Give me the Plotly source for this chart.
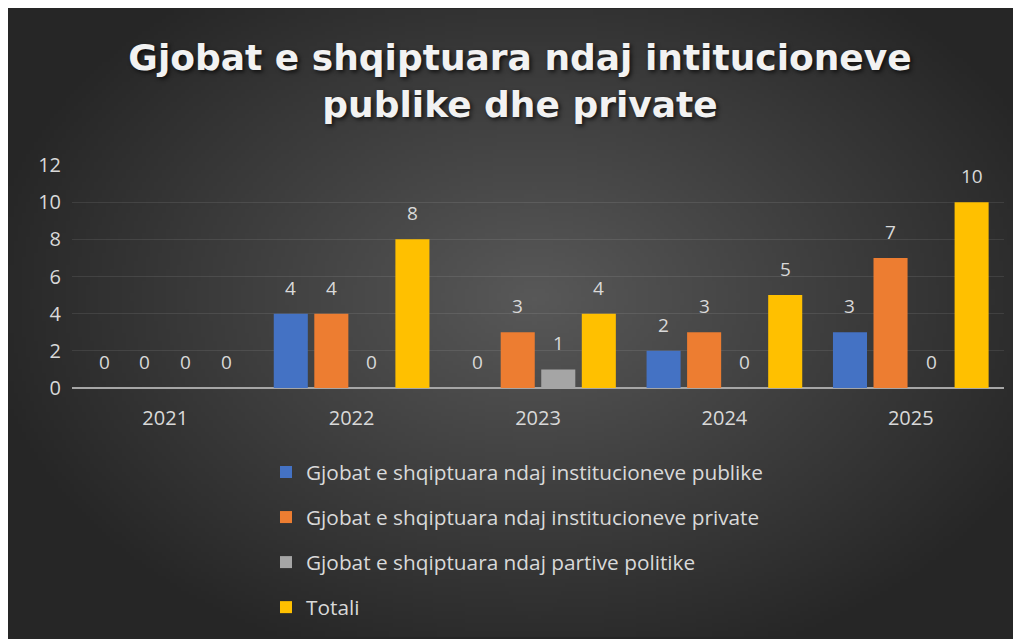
import base64, struct, zlib
import plotly.graph_objects as go

# ---- data ----
years = ["2021", "2022", "2023", "2024", "2025"]
publike = [0, 4, 0, 2, 3]
private = [0, 4, 3, 3, 7]
parti = [0, 0, 1, 0, 0]
totali = [0, 8, 4, 5, 10]

series_names = [
    "Gjobat e shqiptuara ndaj institucioneve publike",
    "Gjobat e shqiptuara ndaj institucioneve private",
    "Gjobat e shqiptuara ndaj partive politike",
    "Totali",
]
series_values = [publike, private, parti, totali]
series_colors = ["#4472C4", "#ED7D31", "#A5A5A5", "#FFC000"]

title_text = "Gjobat e shqiptuara ndaj intitucioneve<br>publike dhe private"

# ---- layout geometry (page body has an 8px margin) ----
W, H = 1013, 631
L, R, T, B = 64, 17, 157, 250
PW, PH = W - L - R, H - T - B
BARGAP = 0.13
BARGROUPGAP = 0.16


# ---- radial gradient background as PNG ----
def make_png(w, h):
    cx, cy = 0.52, 0.46
    c0, c1 = 0x58, 0x26
    rows = []
    for j in range(h):
        row = bytearray([0])
        for i in range(w):
            dx = (i / (w - 1) - cx) / 0.55
            dy = (j / (h - 1) - cy) / 0.62
            r = min((dx * dx + dy * dy) ** 0.5, 1.0)
            v = int(round(c0 + (c1 - c0) * r))
            row.append(v)
        rows.append(bytes(row))
    raw = b"".join(rows)

    def chunk(tag, data):
        c = struct.pack(">I", len(data)) + tag + data
        return c + struct.pack(">I", zlib.crc32(tag + data) & 0xFFFFFFFF)

    png = b"\x89PNG\r\n\x1a\n"
    png += chunk(b"IHDR", struct.pack(">IIBBBBB", w, h, 8, 0, 0, 0, 0))
    png += chunk(b"IDAT", zlib.compress(raw, 9))
    png += chunk(b"IEND", b"")
    return "data:image/png;base64," + base64.b64encode(png).decode()


bg = make_png(254, 158)

fig = go.Figure()
for name, vals, col in zip(series_names, series_values, series_colors):
    fig.add_trace(
        go.Bar(
            x=years,
            y=vals,
            name=name,
            marker=dict(color=col, line=dict(width=0)),
            legendgroup=name,
        )
    )

# data labels via annotations anchored on data coordinates (category index)
n = len(series_names)
pitch = PW / len(years) * (1 - BARGAP) / n
for k, vals in enumerate(series_values):
    for i, v in enumerate(vals):
        fig.add_annotation(
            x=i, y=v, xref="x", yref="y",
            text=str(v), showarrow=False,
            xshift=(k - (n - 1) / 2) * pitch, yshift=11,
            yanchor="bottom",
            font=dict(family="Open Sans", size=19, color="#d9d9d9"),
        )

fig.add_layout_image(
    dict(
        source=bg,
        xref="paper", yref="paper",
        x=-L / PW, y=1 + T / PH,
        sizex=W / PW, sizey=H / PH,
        xanchor="left", yanchor="top",
        sizing="stretch", layer="below",
    )
)

fig.update_layout(
    width=W, height=H,
    margin=dict(l=L, r=R, t=T, b=B),
    paper_bgcolor="#262626",
    plot_bgcolor="rgba(0,0,0,0)",
    barmode="group",
    bargap=BARGAP,
    bargroupgap=BARGROUPGAP,
    title=dict(
        text=title_text,
        x=512 / W, xanchor="center", xref="container",
        y=1 - 62 / H, yanchor="top", yref="container",
        font=dict(family="DejaVu Sans", size=36, color="#f2f2f2", weight="bold",
                  shadow="2px 2px 4px rgba(0,0,0,0.7)"),
    ),
    legend=dict(
        orientation="v",
        x=(258 - L) / PW, xanchor="left",
        y=(H - B - 444) / PH, yanchor="top",
        font=dict(family="Open Sans", size=20.8, color="#d9d9d9"),
        bgcolor="rgba(0,0,0,0)",
        tracegroupgap=15,
    ),
    xaxis=dict(
        type="category",
        range=[-0.5, len(years) - 0.5],
        showgrid=False, showline=False, ticks="",
        tickfont=dict(family="Open Sans", size=20, color="#d9d9d9"),
        ticklabelstandoff=16,
    ),
    yaxis=dict(
        range=[0, 12], dtick=2,
        showgrid=True, gridcolor="rgba(255,255,255,0.09)", gridwidth=1,
        zeroline=True, zerolinecolor="#a6a6a6", zerolinewidth=2,
        showline=False, ticks="",
        tickfont=dict(family="Open Sans", size=20, color="#d9d9d9"),
        ticklabelstandoff=10,
    ),
)

fig.write_html("out.html")
